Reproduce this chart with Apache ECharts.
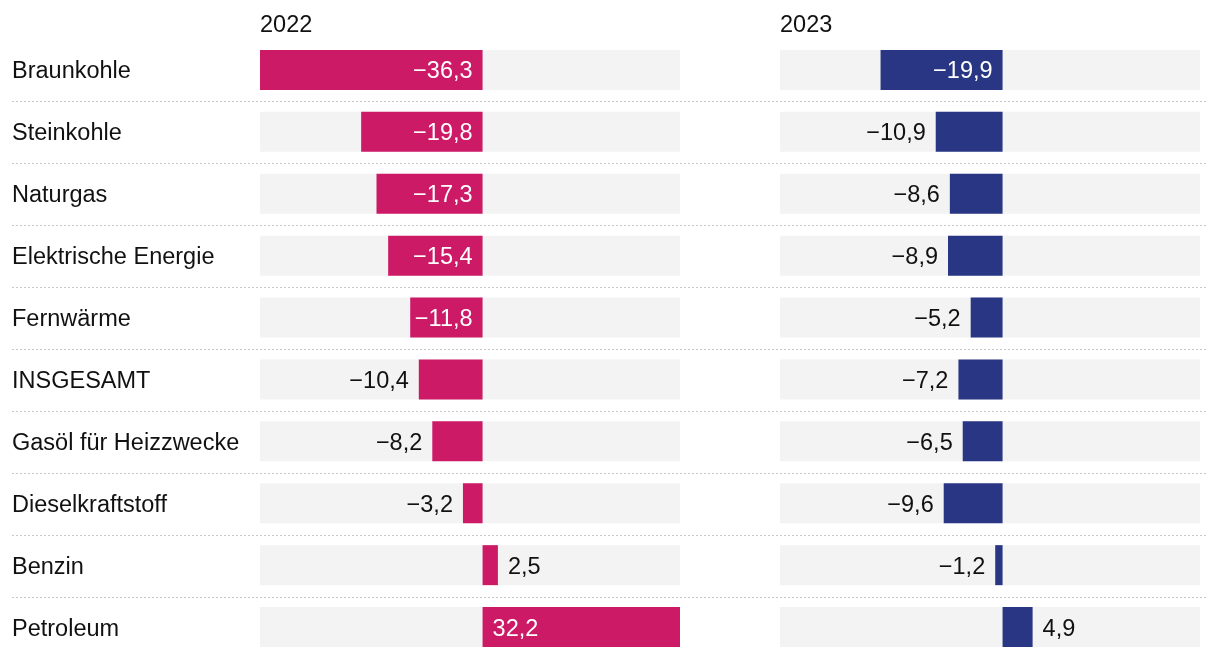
<!DOCTYPE html>
<html>
<head>
<meta charset="utf-8">
<script src="https://cdn.jsdelivr.net/npm/echarts@6/dist/echarts.min.js"></script>
<style>
html,body{margin:0;padding:0;background:#fff;}
#chart{width:1220px;height:658px;}
</style>
</head>
<body>
<div id="chart"></div>
<script>
const categories = ['Braunkohle','Steinkohle','Naturgas','Elektrische Energie','Fernwärme','INSGESAMT','Gasöl für Heizzwecke','Dieselkraftstoff','Benzin','Petroleum'];
const years = ['2022','2023'];
const values2022 = [-36.3,-19.8,-17.3,-15.4,-11.8,-10.4,-8.2,-3.2,2.5,32.2];
const values2023 = [-19.9,-10.9,-8.6,-8.9,-5.2,-7.2,-6.5,-9.6,-1.2,4.9];
const axisMin = -36.3, axisMax = 32.2;

const FONT = '"Liberation Sans", Arial, sans-serif';
const FS = 23.5;
const colors = ['#cc1a66', '#283683'];

function fmt(v){
  const s = Math.abs(v).toFixed(1).replace('.', ',');
  return (v < 0 ? '\u2212' : '') + s;
}
function buildData(vals){
  return vals.map(v => {
    const inside = Math.abs(v) >= 11;
    let pos;
    if (inside) pos = v < 0 ? 'insideRight' : 'insideLeft';
    else pos = v < 0 ? 'left' : 'right';
    return {
      value: v,
      label: { position: pos, color: inside ? '#ffffff' : '#111111' }
    };
  });
}

const chart = echarts.init(document.getElementById('chart'), null, {renderer:'canvas'});
const gridTop = 39, gridH = 620;
const option = {
  animation: false,
  backgroundColor: '#ffffff',
  title: [
    { text: years[0], left: 260, top: 14, padding: 0, textStyle: { fontFamily: FONT, fontSize: FS, fontWeight: 'normal', color: '#111' } },
    { text: years[1], left: 780, top: 14, padding: 0, textStyle: { fontFamily: FONT, fontSize: FS, fontWeight: 'normal', color: '#111' } }
  ],
  grid: [
    { left: 260, width: 420, top: gridTop, height: gridH },
    { left: 780, width: 420, top: gridTop, height: gridH },
    { left: 12, right: 12, top: 101, height: 496 }
  ],
  xAxis: [
    { gridIndex: 0, type: 'value', min: axisMin, max: axisMax, show: false },
    { gridIndex: 1, type: 'value', min: axisMin, max: axisMax, show: false },
    { gridIndex: 2, type: 'value', min: 0, max: 1, show: false }
  ],
  yAxis: [
    { gridIndex: 0, type: 'category', data: categories, inverse: true,
      axisLine: {show:false}, axisTick: {show:false}, splitLine: {show:false},
      axisLabel: { align: 'left', margin: 248, color: '#111',
        formatter: v => '{a|' + v + '}',
        rich: { a: { fontFamily: FONT, fontSize: FS, color: '#111', padding: [4,0,0,0] } } } },
    { gridIndex: 1, type: 'category', data: categories, inverse: true,
      axisLine: {show:false}, axisTick: {show:false}, splitLine: {show:false},
      axisLabel: { show: false } },
    { gridIndex: 2, type: 'value', min: 0, max: 8, interval: 1,
      axisLine: {show:false}, axisTick: {show:false}, axisLabel: {show:false},
      splitLine: { show: true, lineStyle: { color: '#c8c8c8', width: 1, type: [2, 2] } } }
  ],
  series: [
    { type: 'bar', xAxisIndex: 0, yAxisIndex: 0, data: buildData(values2022), barWidth: 40,
      itemStyle: { color: colors[0] },
      showBackground: true, backgroundStyle: { color: '#f3f3f3' },
      label: { show: true, distance: 10, offset: [0, 2], fontFamily: FONT, fontSize: FS, formatter: p => fmt(p.value) } },
    { type: 'bar', xAxisIndex: 1, yAxisIndex: 1, data: buildData(values2023), barWidth: 40,
      itemStyle: { color: colors[1] },
      showBackground: true, backgroundStyle: { color: '#f3f3f3' },
      label: { show: true, distance: 10, offset: [0, 2], fontFamily: FONT, fontSize: FS, formatter: p => fmt(p.value) } }
  ]
};
chart.setOption(option);
</script>
</body>
</html>
